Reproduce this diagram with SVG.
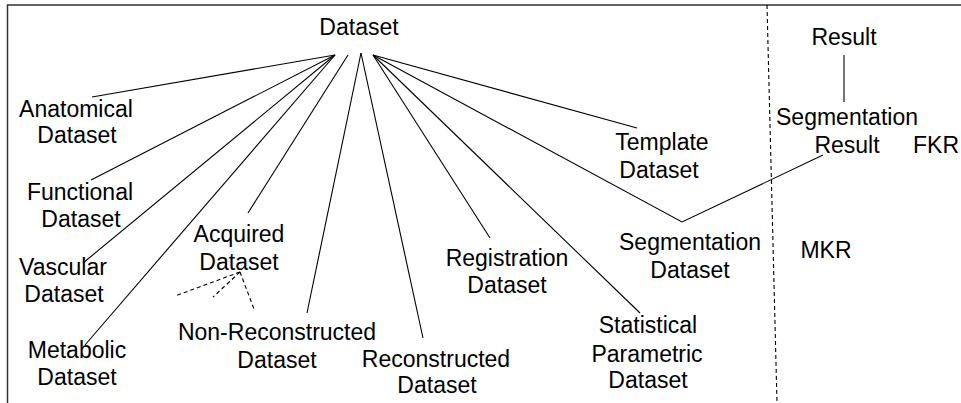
<svg xmlns="http://www.w3.org/2000/svg" width="961" height="403" viewBox="0 0 961 403">
<style>
text{font-family:"Liberation Sans",Arial,sans-serif;font-size:23px;fill:#000;text-anchor:middle}
.c{stroke:#000;stroke-width:1.1;fill:none}
.d{stroke:#000;stroke-width:1.1;fill:none;stroke-dasharray:4 3}
.f{stroke:#333;stroke-width:1.5;fill:none}
</style>
<rect width="961" height="403" fill="#fff"/>
<g id="frame">
<path class="f" d="M7.5,403 V5 H961"/>
<path class="d" d="M767,5 L777,403" stroke-width="1.2"/>
</g>
<g id="connectors">
<line class="c" x1="335" y1="55" x2="92" y2="97"/>
<line class="c" x1="335" y1="55" x2="91" y2="180"/>
<line class="c" x1="335" y1="55" x2="83" y2="263"/>
<line class="c" x1="335" y1="55" x2="85" y2="345"/>
<line class="c" x1="348" y1="55" x2="248" y2="213"/>
<line class="c" x1="361" y1="53" x2="307" y2="313"/>
<line class="c" x1="361" y1="53" x2="423" y2="338"/>
<line class="c" x1="373" y1="55" x2="490" y2="238"/>
<line class="c" x1="373" y1="55" x2="640" y2="313"/>
<line class="c" x1="373" y1="55" x2="637" y2="128"/>
<polyline class="c" points="373,55 682,222 823,155"/>
<line class="c" x1="844" y1="55" x2="844" y2="102"/>
<line class="d" x1="240" y1="272" x2="175" y2="296"/>
<line class="d" x1="240" y1="272" x2="213" y2="297"/>
<line class="d" x1="240" y1="272" x2="254" y2="309"/>
</g>
<g id="dataset"><text x="359" y="35">Dataset</text></g>
<g id="anatomical"><text x="76" y="117">Anatomical</text><text x="77" y="143">Dataset</text></g>
<g id="functional"><text x="80" y="200">Functional</text><text x="81" y="227">Dataset</text></g>
<g id="vascular"><text x="63" y="275">Vascular</text><text x="64" y="302">Dataset</text></g>
<g id="metabolic"><text x="77" y="358">Metabolic</text><text x="77" y="385">Dataset</text></g>
<g id="acquired"><text x="239" y="242">Acquired</text><text x="239" y="270">Dataset</text></g>
<g id="nonreconstructed"><text x="277" y="340">Non-Reconstructed</text><text x="277" y="368">Dataset</text></g>
<g id="reconstructed"><text x="436" y="367">Reconstructed</text><text x="437" y="393">Dataset</text></g>
<g id="registration"><text x="507" y="266">Registration</text><text x="507" y="293">Dataset</text></g>
<g id="template"><text x="662" y="150">Template</text><text x="659" y="178">Dataset</text></g>
<g id="segmentation"><text x="690" y="250">Segmentation</text><text x="690" y="278">Dataset</text></g>
<g id="statistical"><text x="648" y="333">Statistical</text><text x="647" y="362">Parametric</text><text x="648" y="388">Dataset</text></g>
<g id="result"><text x="844" y="45">Result</text></g>
<g id="segresult"><text x="847" y="125">Segmentation</text><text x="847" y="153">Result</text></g>
<g id="fkr"><text x="913" y="153" style="text-anchor:start">FKR</text></g>
<g id="mkr"><text x="826" y="258">MKR</text></g>
</svg>
